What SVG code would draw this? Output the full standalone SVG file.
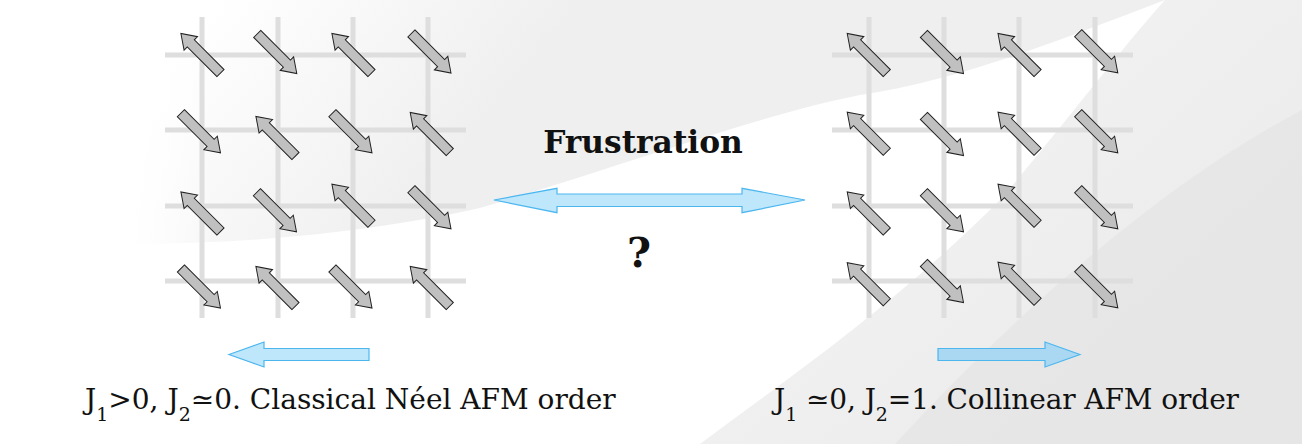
<svg xmlns="http://www.w3.org/2000/svg" xmlns:xlink="http://www.w3.org/1999/xlink" width="1302" height="444" viewBox="0 0 1302 444">
<style>
.grid line{stroke:#dedede;stroke-width:5}
.spin{fill:#c0c0c0;stroke:#222;stroke-width:1;stroke-linejoin:miter}
.blue{fill:#bee7fb;stroke:#4cb6ef;stroke-width:1.2}
.lbl{font-family:"DejaVu Serif",serif;font-size:28px;fill:#111}
.sub{font-size:19px}
.bold{font-family:"DejaVu Serif",serif;font-weight:bold;fill:#111}
</style>
<defs>
<path id="s" class="spin" d="M-28,-5 H14 V-9.5 L28,0 L14,9.5 V5 H-28 Z"/>
<linearGradient id="gTop" x1="200" y1="20" x2="420" y2="200" gradientUnits="userSpaceOnUse">
<stop offset="0" stop-color="#efefef" stop-opacity="0"/>
<stop offset="1" stop-color="#efefef" stop-opacity="1"/>
</linearGradient>
<linearGradient id="gFade" x1="130" y1="0" x2="215" y2="0" gradientUnits="userSpaceOnUse">
<stop offset="0" stop-color="#ffffff" stop-opacity="1"/>
<stop offset="1" stop-color="#ffffff" stop-opacity="0"/>
</linearGradient>
<linearGradient id="gRight" x1="900" y1="0" x2="1302" y2="444" gradientUnits="userSpaceOnUse">
<stop offset="0" stop-color="#f2f2f2"/>
<stop offset="1" stop-color="#e6e6e6"/>
</linearGradient>
</defs>
<g id="background">
<rect width="1302" height="444" fill="#ffffff"/>
<path d="M130,0 H1165 C1060,40 960,80 860,95 C760,115 640,160 480,208 C380,230 260,244 130,244 Z" fill="url(#gTop)"/>
<rect x="120" y="0" width="95" height="250" fill="url(#gFade)"/>
<path d="M1165,0 H1302 V444 H700 C800,370 900,300 1000,200 C1060,130 1120,50 1165,0 Z" fill="url(#gRight)" opacity="0.9"/>
<path d="M1302,110 V444 H895 C1000,330 1150,190 1302,110 Z" fill="#e4e4e4" opacity="0.7"/>
</g>
<g id="left-lattice">
<g class="grid">
<line x1="202" y1="17" x2="202" y2="318"/>
<line x1="278" y1="17" x2="278" y2="318"/>
<line x1="353" y1="17" x2="353" y2="318"/>
<line x1="428" y1="17" x2="428" y2="318"/>
<line x1="165" y1="55" x2="466" y2="55"/>
<line x1="165" y1="130" x2="466" y2="130"/>
<line x1="165" y1="206" x2="466" y2="206"/>
<line x1="165" y1="281" x2="466" y2="281"/>
</g>
<use xlink:href="#s" transform="translate(200.7,53.3) rotate(-135)"/>
<use xlink:href="#s" transform="translate(277,53.7) rotate(45)"/>
<use xlink:href="#s" transform="translate(351.7,53.3) rotate(-135)"/>
<use xlink:href="#s" transform="translate(431.2,53.2) rotate(45)"/>
<use xlink:href="#s" transform="translate(200.7,133) rotate(45)"/>
<use xlink:href="#s" transform="translate(275.7,136.2) rotate(-135)"/>
<use xlink:href="#s" transform="translate(352.2,133) rotate(45)"/>
<use xlink:href="#s" transform="translate(430,132.3) rotate(-135)"/>
<use xlink:href="#s" transform="translate(200.7,211.7) rotate(-135)"/>
<use xlink:href="#s" transform="translate(276.7,212) rotate(45)"/>
<use xlink:href="#s" transform="translate(351.7,204) rotate(-135)"/>
<use xlink:href="#s" transform="translate(431.2,209) rotate(45)"/>
<use xlink:href="#s" transform="translate(200.7,288.3) rotate(45)"/>
<use xlink:href="#s" transform="translate(275.7,286.3) rotate(-135)"/>
<use xlink:href="#s" transform="translate(352.2,288.3) rotate(45)"/>
<use xlink:href="#s" transform="translate(430,286.3) rotate(-135)"/>
</g>
<g id="right-lattice">
<g class="grid">
<line x1="869" y1="17" x2="869" y2="318"/>
<line x1="944" y1="17" x2="944" y2="318"/>
<line x1="1019" y1="17" x2="1019" y2="318"/>
<line x1="1095" y1="17" x2="1095" y2="318"/>
<line x1="832" y1="55" x2="1133" y2="55"/>
<line x1="832" y1="130" x2="1133" y2="130"/>
<line x1="832" y1="206" x2="1133" y2="206"/>
<line x1="832" y1="281" x2="1133" y2="281"/>
</g>
<use xlink:href="#s" transform="translate(867,53.3) rotate(-135)"/>
<use xlink:href="#s" transform="translate(943.7,53.7) rotate(45)"/>
<use xlink:href="#s" transform="translate(1017.8,53.3) rotate(-135)"/>
<use xlink:href="#s" transform="translate(1098,53) rotate(45)"/>
<use xlink:href="#s" transform="translate(867,132) rotate(-135)"/>
<use xlink:href="#s" transform="translate(943.7,135.7) rotate(45)"/>
<use xlink:href="#s" transform="translate(1017.8,132) rotate(-135)"/>
<use xlink:href="#s" transform="translate(1098,133) rotate(45)"/>
<use xlink:href="#s" transform="translate(867,211.7) rotate(-135)"/>
<use xlink:href="#s" transform="translate(943.7,212) rotate(45)"/>
<use xlink:href="#s" transform="translate(1017.8,204) rotate(-135)"/>
<use xlink:href="#s" transform="translate(1098,209) rotate(45)"/>
<use xlink:href="#s" transform="translate(867,282.5) rotate(-135)"/>
<use xlink:href="#s" transform="translate(943.7,282.7) rotate(45)"/>
<use xlink:href="#s" transform="translate(1017.8,282) rotate(-135)"/>
<use xlink:href="#s" transform="translate(1098,288) rotate(45)"/>
</g>
<g id="connectors">
<path class="blue" d="M494,200 L557,188.3 V194 H742 V188.3 L805,200 L742,212.7 V206.5 H557 V212.7 Z"/>
<path class="blue" d="M229,354.5 L264,342 V348.5 H369 V360.5 H264 V367 Z"/>
<path class="blue" style="fill:#aad7f1" d="M1080,354.5 L1045,342 V348.5 H938 V360.5 H1045 V367 Z"/>
</g>
<g id="labels">
<text class="bold" x="643" y="153" font-size="31.3" text-anchor="middle">Frustration</text>
<text class="bold" x="639" y="267" font-size="41" text-anchor="middle">?</text>
<text class="lbl" x="85" y="409">J<tspan class="sub" dy="12">1</tspan><tspan dy="-12">&gt;0, J</tspan><tspan class="sub" dy="12">2</tspan><tspan dy="-12">≃0. Classical Néel AFM order</tspan></text>
<text class="lbl" x="774" y="409" textLength="465" lengthAdjust="spacing">J<tspan class="sub" dy="12">1</tspan><tspan dy="-12"> ≃0, J</tspan><tspan class="sub" dy="12">2</tspan><tspan dy="-12">=1. Collinear AFM order</tspan></text>
</g>
</svg>
